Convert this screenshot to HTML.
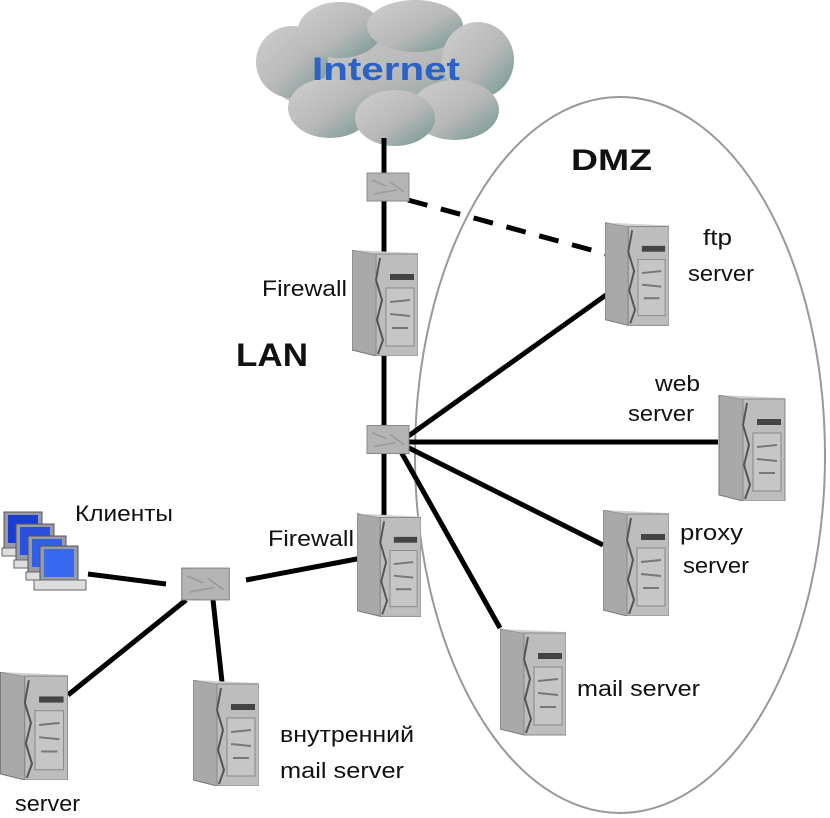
<!DOCTYPE html>
<html><head><meta charset="utf-8"><style>
html,body{margin:0;padding:0;background:#fff}
svg{display:block}
text{font-family:"Liberation Sans","DejaVu Sans",sans-serif;fill:#111}
</style></head><body>
<svg width="830" height="818" viewBox="0 0 830 818" xmlns="http://www.w3.org/2000/svg">
<defs>
<symbol id="srv" viewBox="0 0 66 106">
<polygon points="0,0 24,4 24,106 0,100" fill="#a9a9a9" stroke="#777" stroke-width="1"/>
<polygon points="0,0 66,3 66,6 24,4" fill="#d0d0d0"/>
<rect x="24" y="4" width="42" height="102" fill="#bdbdbd" stroke="#888" stroke-width="1"/>
<path d="M28,8 L24,30 L30,50 L25,70 L31,90 L26,104" stroke="#555" stroke-width="2" fill="none"/>
<rect x="38" y="24" width="24" height="6" fill="#444"/>
<rect x="34" y="38" width="28" height="58" fill="#c6c6c6" stroke="#888"/>
<path d="M38,52 L58,50 M38,64 L58,66 M40,78 L56,78" stroke="#777" stroke-width="2"/>
</symbol>
<symbol id="sw" viewBox="0 0 44 30">
<rect x="1" y="1" width="42" height="28" fill="#b4b4b4" stroke="#888"/>
<path d="M6,8 L20,14 M24,10 L38,20 M8,22 L30,18" stroke="#999" stroke-width="1.5"/>
</symbol>
<linearGradient id="cg" x1="0" y1="0" x2="1" y2="1">
<stop offset="0" stop-color="#cfcfcf"/><stop offset="0.55" stop-color="#b8b8b8"/><stop offset="1" stop-color="#6f9590"/>
</linearGradient>
</defs>
<rect width="830" height="818" fill="#fff"/>
<ellipse cx="620" cy="455" rx="205" ry="358" fill="none" stroke="#999" stroke-width="2"/>
<!-- cloud -->
<g fill="url(#cg)">
<ellipse cx="385" cy="72" rx="120" ry="48"/>
<ellipse cx="292" cy="62" rx="36" ry="36"/>
<ellipse cx="340" cy="30" rx="42" ry="28"/>
<ellipse cx="415" cy="26" rx="48" ry="26"/>
<ellipse cx="478" cy="60" rx="36" ry="38"/>
<ellipse cx="330" cy="108" rx="42" ry="30"/>
<ellipse cx="455" cy="110" rx="44" ry="30"/>
<ellipse cx="395" cy="118" rx="40" ry="28"/>
</g>
<text x="386" y="80" text-anchor="middle" font-size="32" font-weight="bold" textLength="148" lengthAdjust="spacingAndGlyphs" style="fill:#2a62c8">Internet</text>
<g stroke="#000" stroke-width="5" fill="none">
<line x1="384" y1="138" x2="384" y2="520"/>
<line x1="400" y1="442" x2="606" y2="295"/>
<line x1="405" y1="442" x2="718" y2="442"/>
<line x1="405" y1="446" x2="603" y2="545"/>
<line x1="400" y1="450" x2="500" y2="628"/>
<line x1="88" y1="574" x2="166" y2="584"/>
<line x1="246" y1="580" x2="362" y2="558"/>
<line x1="186" y1="600" x2="68" y2="695"/>
<line x1="213" y1="600" x2="222" y2="682"/>
<line x1="408" y1="200" x2="606" y2="254" stroke-dasharray="20,14"/>
</g>
<use href="#sw" x="366" y="172" width="44" height="30"/>
<use href="#sw" x="366" y="424" width="44" height="31"/>
<use href="#sw" x="163" y="567" width="85" height="34"/>
<use href="#srv" x="352" y="250" width="66" height="106"/>
<use href="#srv" x="605" y="220" width="64" height="108"/>
<use href="#srv" x="718" y="395" width="68" height="106"/>
<use href="#srv" x="603" y="510" width="66" height="106"/>
<use href="#srv" x="357" y="512" width="64" height="106"/>
<use href="#srv" x="500" y="628" width="66" height="108"/>
<use href="#srv" x="0" y="672" width="68" height="108"/>
<use href="#srv" x="193" y="680" width="66" height="106"/>
<g>
<rect x="4" y="512" width="38" height="36" fill="#99a" stroke="#555"/>
<rect x="8" y="515" width="30" height="28" fill="#1a3fd0"/>
<rect x="2" y="548" width="34" height="8" fill="#ddd" stroke="#666"/>
<rect x="16" y="524" width="38" height="36" fill="#99a" stroke="#555"/>
<rect x="20" y="527" width="30" height="28" fill="#2a50e0"/>
<rect x="14" y="560" width="34" height="8" fill="#ddd" stroke="#666"/>
<rect x="28" y="536" width="38" height="36" fill="#99a" stroke="#555"/>
<rect x="32" y="539" width="30" height="28" fill="#3060e8"/>
<rect x="26" y="572" width="40" height="8" fill="#ddd" stroke="#666"/>
<rect x="40" y="546" width="38" height="36" fill="#99a" stroke="#555"/>
<rect x="44" y="549" width="30" height="28" fill="#3868f0"/>
<rect x="34" y="580" width="52" height="10" fill="#ddd" stroke="#666"/>
</g>
<g font-size="22">
<text x="571" y="170" font-size="30" font-weight="bold" textLength="81" lengthAdjust="spacingAndGlyphs">DMZ</text>
<text x="236" y="366" font-size="32" font-weight="bold" textLength="72" lengthAdjust="spacingAndGlyphs">LAN</text>
<text x="262" y="296" textLength="85" lengthAdjust="spacingAndGlyphs">Firewall</text>
<text x="268" y="546" textLength="86" lengthAdjust="spacingAndGlyphs">Firewall</text>
<text x="703" y="245" textLength="29" lengthAdjust="spacingAndGlyphs">ftp</text>
<text x="688" y="281" textLength="66" lengthAdjust="spacingAndGlyphs">server</text>
<text x="655" y="391" textLength="45" lengthAdjust="spacingAndGlyphs">web</text>
<text x="628" y="421" textLength="66" lengthAdjust="spacingAndGlyphs">server</text>
<text x="680" y="540" textLength="63" lengthAdjust="spacingAndGlyphs">proxy</text>
<text x="683" y="573" textLength="66" lengthAdjust="spacingAndGlyphs">server</text>
<text x="577" y="696" textLength="123" lengthAdjust="spacingAndGlyphs">mail server</text>
<text x="75" y="521" textLength="98" lengthAdjust="spacingAndGlyphs">Клиенты</text>
<text x="280" y="742" textLength="134" lengthAdjust="spacingAndGlyphs">внутренний</text>
<text x="280" y="778" textLength="124" lengthAdjust="spacingAndGlyphs">mail server</text>
<text x="15" y="811" textLength="65" lengthAdjust="spacingAndGlyphs">server</text>
</g>
</svg>
</body></html>
